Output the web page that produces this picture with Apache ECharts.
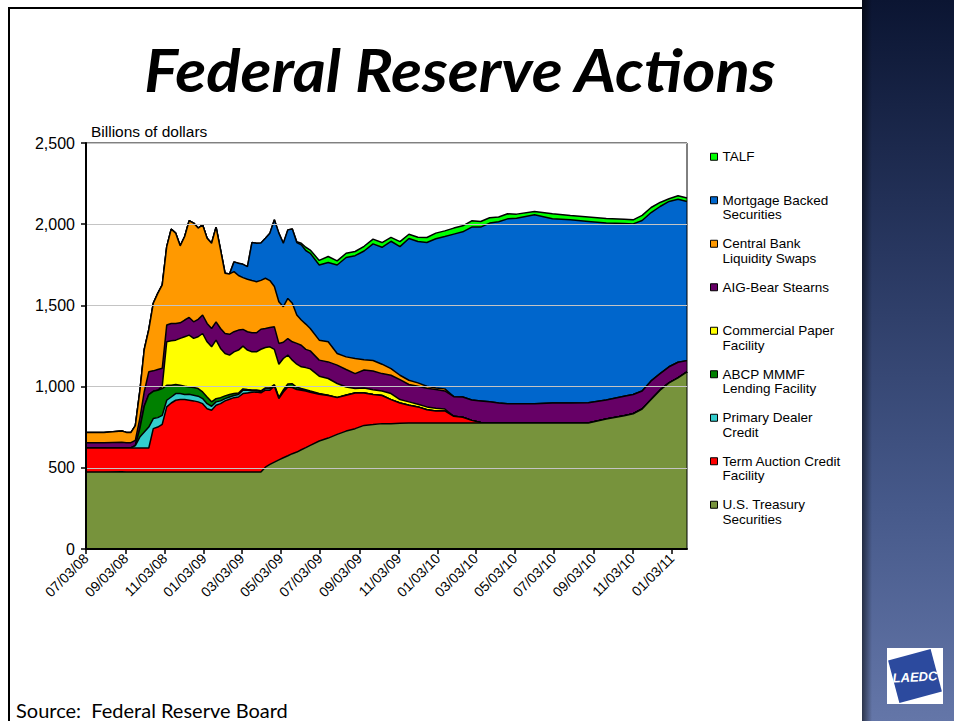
<!DOCTYPE html>
<html><head><meta charset="utf-8">
<script src="https://cdn.jsdelivr.net/npm/echarts@6.0.0/dist/echarts.min.js"></script>
<style>html,body{margin:0;padding:0;background:#fff;}#c{width:954px;height:721px;}</style>
</head><body><div id="c"></div>
<script>
// ---- data (billions of dollars, weekly H.4.1 readings) ----
const dates = ['2008-07-03','2008-07-31','2008-08-28','2008-09-04','2008-09-11','2008-09-18','2008-09-25','2008-10-02','2008-10-09','2008-10-16','2008-10-23','2008-10-30','2008-11-06','2008-11-13','2008-11-20','2008-11-27','2008-12-04','2008-12-11','2008-12-18','2008-12-25','2009-01-01','2009-01-08','2009-01-15','2009-01-22','2009-01-29','2009-02-05','2009-02-12','2009-02-19','2009-02-26','2009-03-05','2009-03-12','2009-03-19','2009-03-26','2009-04-02','2009-04-09','2009-04-16','2009-04-23','2009-04-30','2009-05-07','2009-05-14','2009-05-21','2009-05-28','2009-06-04','2009-06-11','2009-06-18','2009-07-02','2009-07-16','2009-07-30','2009-08-13','2009-08-27','2009-09-10','2009-09-24','2009-10-08','2009-10-22','2009-11-05','2009-11-19','2009-12-03','2009-12-17','2009-12-31','2010-01-14','2010-01-28','2010-02-11','2010-02-25','2010-03-11','2010-03-25','2010-04-08','2010-04-22','2010-05-06','2010-06-03','2010-07-01','2010-07-29','2010-08-26','2010-09-23','2010-10-21','2010-11-04','2010-11-18','2010-12-02','2010-12-16','2010-12-30','2011-01-13','2011-01-27'];
const treasury = [474,474,476,474,474,474,474,474,474,474,474,474,474,474,474,474,474,474,474,474,474,474,474,474,474,474,474,474,474,474,474,474,474,474,504,521,535,549,562,574,587,597,611,624,638,665,683,706,726,741,761,766,772,772,774,776,776,776,776,776,776,776,776,776,776,776,776,776,776,776,776,776,801,821,833,862,920,978,1023,1054,1090];
const taf = [148,148,148,148,148,148,148,148,148,267,277,294,401,425,442,446,446,442,438,432,421,390,380,411,421,438,448,458,462,483,487,491,493,488,474,457,467,377,405,424,407,385,367,349,327,288,262,226,221,220,200,185,173,148,125,109,99,82,74,74,41,35,16,3,0,0,0,0,0,0,0,0,0,0,0,0,0,0,0,0,0];
const pdcf = [0,0,0,0,0,15,67,98,129,62,58,55,41,37,41,37,31,37,35,35,31,31,25,21,17,14,14,13,15,21,17,10,8,8,10,10,5,3,3,3,3,2,2,2,2,1,0,0,0,0,0,0,0,0,0,0,0,0,0,0,0,0,0,0,0,0,0,0,0,0,0,0,0,0,0,0,0,0,0,0,0];
const abcp = [0,0,0,0,0,0,52,160,200,168,168,165,92,72,56,51,51,45,47,47,41,41,27,20,20,17,15,12,10,8,4,4,4,4,4,4,5,5,10,15,20,12,8,6,6,4,2,1,1,0,0,0,0,0,0,0,0,0,0,0,0,0,0,0,0,0,0,0,0,0,0,0,0,0,0,0,0,0,0,0,0];
const cpff = [0,0,0,0,0,0,0,0,0,0,0,15,268,274,273,289,305,319,303,319,360,340,339,360,303,261,243,257,264,263,243,235,235,256,249,253,217,204,193,178,146,142,134,136,136,106,103,86,50,27,30,30,28,37,21,21,16,17,16,12,0,0,0,0,0,0,0,0,0,0,0,0,0,0,0,0,0,0,0,0,0];
const aigBear = [33,33,33,33,33,32,62,90,140,126,128,110,103,107,103,96,103,109,102,107,114,113,113,113,123,123,128,124,123,103,113,117,117,123,117,119,139,128,100,102,113,128,133,112,111,99,102,113,107,92,111,115,107,113,123,107,111,115,116,111,121,125,126,133,130,123,119,119,119,123,123,125,117,119,118,111,115,102,99,96,70];
const swaps = [62,62,70,63,62,91,167,260,260,416,469,513,483,581,556,474,514,595,608,562,555,525,525,583,484,371,372,370,336,319,323,322,315,301,309,289,248,257,219,247,237,175,155,156,138,123,124,72,78,93,64,65,58,41,27,26,21,12,10,13,0,0,0,0,0,0,0,0,0,0,0,0,0,0,0,0,0,0,0,0,0];
const mbs = [0,0,0,0,0,0,0,0,0,0,0,0,0,0,0,0,0,0,0,0,0,0,0,0,0,0,0,60,76,82,78,234,237,230,247,292,411,422,391,422,457,446,463,453,463,463,488,545,612,633,669,718,720,784,792,873,870,885,918,938,1001,1017,1064,1070,1101,1116,1138,1142,1163,1134,1128,1116,1089,1065,1051,1050,1037,1029,1018,1004,980];
const talf = [0,0,0,0,0,0,0,0,0,0,0,0,0,0,0,0,0,0,0,0,0,0,0,0,0,0,0,0,0,0,0,0,0,0,0,0,0,0,0,0,0,5,10,20,20,28,37,25,26,26,29,29,29,24,31,26,27,31,35,35,37,37,39,35,33,29,31,25,20,31,26,27,28,26,25,31,31,25,17,21,21];
const tickDates = ['2008-07-03','2008-09-03','2008-11-03','2009-01-03','2009-03-03','2009-05-03','2009-07-03','2009-09-03','2009-11-03','2010-01-03','2010-03-03','2010-05-03','2010-07-03','2010-09-03','2010-11-03','2011-01-03'];
const yTicks = [0, 500, 1000, 1500, 2000, 2500];
const seriesNames = ['U.S. Treasury\nSecurities','Term Auction Credit\nFacility','Primary Dealer\nCredit','ABCP MMMF\nLending Facility','Commercial Paper\nFacility','AIG-Bear Stearns','Central Bank\nLiquidity Swaps','Mortgage Backed\nSecurities','TALF'];
const seriesColors = ['#77933C','#FF0000','#33CCCC','#008000','#FFFF00','#660066','#FF9900','#0066CC','#00FF00'];
const seriesData = [treasury, taf, pdcf, abcp, cpff, aigBear, swaps, mbs, talf];

// ---- chart ----
const toTs = s => new Date(s.replace(/-/g, '/')).getTime();
const ts = dates.map(toTs);
const tickTs = tickDates.map(toTs);
const pad = n => (n < 10 ? '0' : '') + n;
const fmtDate = v => { const d = new Date(v); return pad(d.getMonth() + 1) + '/' + pad(d.getDate()) + '/' + pad(d.getFullYear() % 100); };
const ARIAL = 'Liberation Sans, Arial, sans-serif';

const chart = echarts.init(document.getElementById('c'), null, { renderer: 'svg' });
chart.setOption({
  animation: false,
  backgroundColor: '#ffffff',
  grid: { left: 86, top: 143, width: 601, height: 406, show: true, borderColor: '#000', borderWidth: 1, backgroundColor: 'transparent', z: 40 },
  legend: {
    orient: 'vertical', left: 710, top: 135, padding: 0, itemGap: 0,
    itemWidth: 7, itemHeight: 7, icon: 'rect', selectedMode: false,
    itemStyle: { borderColor: '#000', borderWidth: 1 },
    textStyle: { fontFamily: ARIAL, fontSize: 13.5, lineHeight: 14.5, color: '#000' },
    data: seriesNames.slice().reverse(),
    formatter: n => n.indexOf('\n') >= 0 ? ' \n' + n : ' \n' + n + '\n '
  },
  xAxis: {
    type: 'value', min: ts[0], max: ts[ts.length - 1], z: 45,
    axisLine: { show: true, onZero: false, lineStyle: { color: '#000', width: 2 } },
    axisTick: { show: true, length: 5, customValues: tickTs, lineStyle: { color: '#000', width: 1.5 } },
    axisLabel: { customValues: tickTs, rotate: 45, margin: 7, formatter: fmtDate, fontFamily: ARIAL, fontSize: 14, color: '#000' },
    splitLine: { show: false }
  },
  yAxis: {
    type: 'value', min: yTicks[0], max: yTicks[yTicks.length - 1], interval: 500, z: 45,
    name: 'Billions of dollars', nameLocation: 'end', nameGap: 12,
    nameTextStyle: { fontFamily: ARIAL, fontSize: 15.5, color: '#000', align: 'left', verticalAlign: 'middle', padding: [0, 0, 0, 5] },
    axisLine: { show: true, lineStyle: { color: '#000', width: 2 } },
    axisTick: { show: true, length: 5, lineStyle: { color: '#000', width: 1.5 } },
    axisLabel: { margin: 11, fontFamily: ARIAL, fontSize: 16, color: '#000', formatter: v => v.toLocaleString('en-US') },
    splitLine: { show: true, lineStyle: { color: '#c4c4c4', width: 1 } }
  },
  series: seriesNames.map((name, i) => ({
    name: name, type: 'line', stack: 'total', z: 20 - i,
    // value first so that the stack is applied to the value dimension
    data: ts.map((t, j) => [seriesData[i][j], t]),
    encode: { x: 1, y: 0 },
    symbol: 'none', showSymbol: false, color: seriesColors[i],
    lineStyle: { color: '#000', width: 1.5 },
    areaStyle: { color: seriesColors[i], opacity: 1 },
    emphasis: { disabled: true }, silent: true
  })),
  graphic: [
    { type: 'rect', left: 862, top: 0, z: 0, shape: { width: 92, height: 721 },
      style: { fill: { type: 'linear', x: 0, y: 0, x2: 0, y2: 1, colorStops: [
        { offset: 0, color: '#0b1532' }, { offset: 0.35, color: '#283760' }, { offset: 0.7, color: '#46598a' }, { offset: 1, color: '#6476a8' }] } } },
    { type: 'rect', left: 862, top: 0, z: 1, shape: { width: 10, height: 721 },
      style: { fill: { type: 'linear', x: 0, y: 0, x2: 1, y2: 0, colorStops: [
        { offset: 0, color: 'rgba(0,0,0,0.55)' }, { offset: 1, color: 'rgba(0,0,0,0)' }] } } },
    { type: 'line', z: 2, shape: { x1: 8, y1: 8, x2: 862, y2: 8 }, style: { stroke: '#000', lineWidth: 2 } },
    { type: 'line', z: 2, shape: { x1: 9, y1: 8, x2: 9, y2: 721 }, style: { stroke: '#000', lineWidth: 2 } },
    { type: 'text', x: 460, y: 69, z: 5, scaleX: 1.06,
      style: { text: 'Federal Reserve Actions', x: 0, y: 0, textAlign: 'center', textVerticalAlign: 'middle',
        font: 'italic bold 60px Lato, "Open Sans", sans-serif', fill: '#000',
        shadowColor: 'rgba(0,0,0,0.35)', shadowOffsetX: 3, shadowOffsetY: 3, shadowBlur: 2 } },
    { type: 'text', x: 16, y: 710, z: 5,
      style: { text: 'Source:  Federal Reserve Board', textVerticalAlign: 'middle', font: '20px Lato, "Open Sans", sans-serif', fill: '#000' } },
    { type: 'rect', left: 887, top: 648, z: 5, shape: { width: 56, height: 56 }, style: { fill: '#ffffff' } },
    { type: 'rect', x: 915, y: 676, z: 6, rotation: 0.26, shape: { x: -22, y: -22, width: 44, height: 44 }, style: { fill: '#2c4a9e' } },
    { type: 'text', x: 915, y: 677, z: 7, rotation: 0.05,
      style: { text: 'LAEDC', textAlign: 'center', textVerticalAlign: 'middle', font: 'italic bold 13px "Liberation Sans", Arial, sans-serif', fill: '#ffffff' } }
  ]
});
</script>
</body></html>
